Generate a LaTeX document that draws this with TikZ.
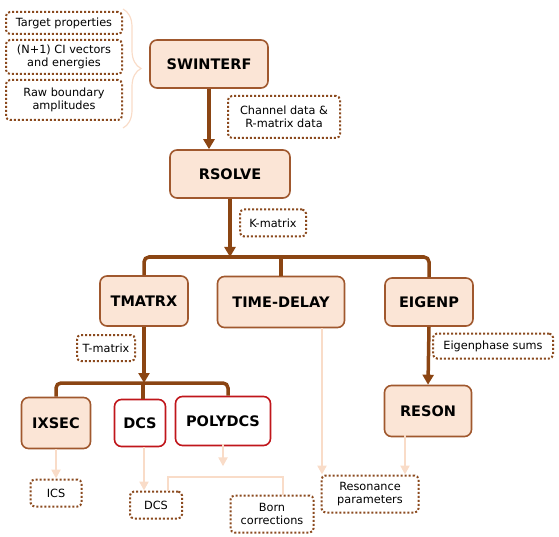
\documentclass[tikz,border=0pt]{standalone}
\usepackage{fontspec}
\setmainfont{DejaVu Sans}
\usetikzlibrary{positioning,arrows.meta,decorations.pathreplacing}
\definecolor{peach}{HTML}{FBE5D6}
\definecolor{progborder}{HTML}{A0582E}
\definecolor{redborder}{HTML}{C0161B}
\definecolor{dotbrown}{HTML}{8B4A1E}
\definecolor{flowbrown}{HTML}{8B4513}
\definecolor{faintpeach}{HTML}{F9DCC8}

\tikzset{
  prog/.style={draw=progborder, fill=peach, line width=1.6pt, rounded corners=7pt,
    font=\fontsize{14.5}{16}\selectfont\bfseries, inner sep=0pt},
  progred/.style={prog, draw=redborder, fill=white},
  datab/.style={draw=dotbrown, line width=2pt, dash pattern=on 2pt off 2pt,
    rounded corners=4pt, font=\fontsize{11.3}{13.5}\selectfont, align=center, inner sep=0pt},
  flow/.style={draw=flowbrown, line width=3.5pt, -{Triangle[width=11pt,length=10pt]}},
  bus/.style={draw=flowbrown, line width=3.5pt, rounded corners=5pt},
  faint/.style={draw=faintpeach, line width=2.5pt, -{Triangle[width=9pt,length=9pt]}},
  faintbar/.style={draw=faintpeach, line width=2pt}
}

\begin{document}
\begin{tikzpicture}[x=1pt,y=-1pt]
        \useasboundingbox (0,0) rectangle (559,537);

        \node[prog, minimum width=118pt, minimum height=48pt] (swinterf) at (209,64) {SWINTERF};
        \node[prog, minimum width=120pt, minimum height=48pt] (rsolve) at (230,174) {RSOLVE};
        \node[prog, minimum width=88pt, minimum height=50pt] (tmatrx) at (144,301) {TMATRX};
        \node[prog, minimum width=127pt, minimum height=51pt] (timedelay) at (281,302) {TIME-DELAY};
        \node[prog, minimum width=88pt, minimum height=48pt] (eigenp) at (429,302) {EIGENP};
        \node[prog, minimum width=69pt, minimum height=51pt] (ixsec) at (56,423) {IXSEC};
        \node[progred, minimum width=51pt, minimum height=47pt] (dcs) at (140,423) {DCS};
        \node[progred, minimum width=95pt, minimum height=49pt] (polydcs) at (223,421) {POLYDCS};
        \node[prog, minimum width=87pt, minimum height=51pt] (reson) at (428,411) {RESON};

        \node[datab, minimum width=116pt, minimum height=22pt] (target) at (64,23) {Target properties};
        \node[datab, minimum width=116pt, minimum height=34pt] (civec) at (64,57) {(N+1) CI vectors\\and energies};
        \node[datab, minimum width=116pt, minimum height=40pt] (rawamp) at (64,100) {Raw boundary\\amplitudes};
        \node[datab, minimum width=112pt, minimum height=42pt] (chandata) at (284,117) {Channel data \&\\R-matrix data};
        \node[datab, minimum width=66pt, minimum height=27pt] (kmat) at (273,223) {K-matrix};
        \node[datab, minimum width=58pt, minimum height=26pt] (tmat) at (106,348) {T-matrix};
        \node[datab, minimum width=120pt, minimum height=25pt] (eigsum) at (493,346) {Eigenphase sums};
        \node[datab, minimum width=51pt, minimum height=27pt] (ics) at (56,493) {ICS};
        \node[datab, minimum width=52pt, minimum height=27pt] (dcsout) at (156,505) {DCS};
        \node[datab, minimum width=83pt, minimum height=37pt] (born) at (272,514) {Born\\corrections};
        \node[datab, minimum width=97pt, minimum height=37pt] (respar) at (370,494) {Resonance\\parameters};

        \draw[decorate, decoration={brace, amplitude=18pt}, draw=faintpeach, line width=1.2pt]
            (123,9) -- (123,128);

        \coordinate (bustop) at (230,257);
        \coordinate (buslow) at (143,383);

        \draw[flow] (swinterf.south) -- (swinterf.south |- rsolve.north);
        \draw[flow] (rsolve.south) -- (bustop);
        \draw[bus] (tmatrx.north) |- (bustop) -| (eigenp.north);
        \draw[bus] (timedelay.north) -- (timedelay.north |- bustop);

        \draw[flow] (tmatrx.south) -- (tmatrx.south |- buslow);
        \draw[bus] (ixsec.north) |- (buslow) -| ([xshift=5pt]polydcs.north);
        \draw[bus] (dcs.north -| buslow) -- (buslow);
        \draw[flow] (eigenp.south) -- (reson.north);

        \draw[faint] (ixsec.south) -- (ics.north);
        \draw[faint] ([xshift=4pt]dcs.south) -- ([xshift=4pt]dcs.south |- dcsout.north);
        \draw[faint] ([yshift=2pt]polydcs.south) -- ++(0,22);
        \draw[faintbar] (dcsout.north -| 168,0) |- (283,477) -- (born.north -| 283,0);
        \draw[faint] (timedelay.south -| 322,0) -- (respar.north -| 322,0);
        \draw[faint] ([yshift=2pt]reson.south -| 405,0) -- (respar.north -| 405,0);
    \end{tikzpicture}
\end{document}
